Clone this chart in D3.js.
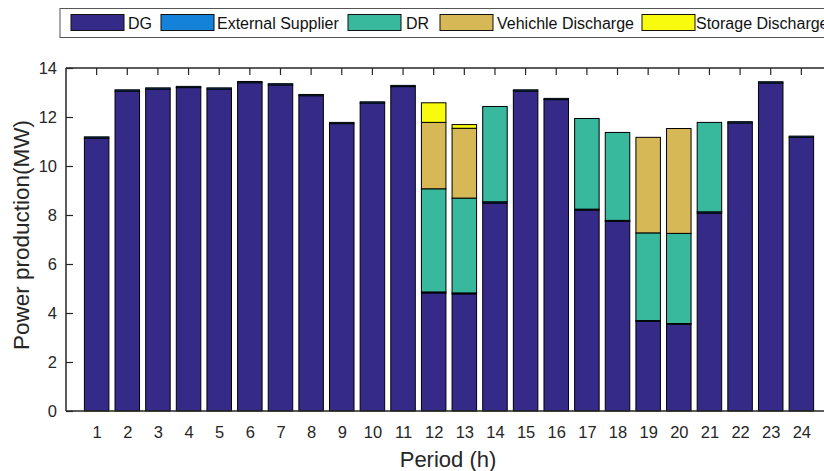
<!DOCTYPE html>
<html><head><meta charset="utf-8">
<script src="https://cdn.jsdelivr.net/npm/d3@7"></script>
<style>body{margin:0;background:#fff;} svg{display:block;font-family:"Liberation Sans",Arial,sans-serif;}</style>
</head><body><svg id="c" width="824" height="471"></svg>
<script>
const periods = [1,2,3,4,5,6,7,8,9,10,11,12,13,14,15,16,17,18,19,20,21,22,23,24];
const seriesNames = ["DG","External Supplier","DR","Vehichle Discharge","Storage Discharge"];
const seriesColors = ["#352a87","#1382d8","#38b89d","#d6b856","#f9fb0e"];
const dg       = [11.14,13.06,13.14,13.20,13.14,13.40,13.31,12.87,11.73,12.57,13.24,4.82,4.78,8.49,13.06,12.71,8.20,7.74,3.66,3.54,8.08,11.76,13.39,11.17];
const external = [0.05,0.05,0.05,0.05,0.05,0.05,0.05,0.05,0.05,0.05,0.05,0.04,0.04,0.05,0.05,0.05,0.04,0.04,0.03,0.03,0.05,0.05,0.05,0.05];
const dr       = [0,0,0,0,0,0,0,0,0,0,0,4.21,3.87,3.89,0,0,3.70,3.59,3.58,3.68,3.65,0,0,0];
const vehicle  = [0,0,0,0,0,0,0,0,0,0,0,2.71,2.85,0,0,0,0,0,3.90,4.28,0,0,0,0];
const storage  = [0,0,0,0,0,0,0,0,0,0,0,0.80,0.15,0,0,0,0,0,0,0,0,0,0,0];
const yTicks = [0,2,4,6,8,10,12,14];

const FONT = "Liberation Sans, Arial, sans-serif";
const svg = d3.select("#c");
const L = 66, T = 68, B = 411;
const x = d3.scaleLinear().domain([0,25]).range([L, L + 25*30.64]);
const y = d3.scaleLinear().domain([0,14]).range([B, T]);
const bw = x(0.8) - x(0);

const rows = periods.map((p,i)=>({p, "DG":dg[i], "External Supplier":external[i], "DR":dr[i], "Vehichle Discharge":vehicle[i], "Storage Discharge":storage[i]}));
const stacked = d3.stack().keys(seriesNames)(rows);

stacked.forEach((s,k)=>{
  svg.append("g").selectAll("rect").data(s.filter(d=>d[1]-d[0]>0)).join("rect")
    .attr("x", d=>x(d.data.p)-bw/2)
    .attr("width", bw)
    .attr("y", d=>y(d[1]))
    .attr("height", d=>y(d[0])-y(d[1]))
    .attr("fill", seriesColors[k])
    .attr("stroke", "#000")
    .attr("stroke-width", 1);
});

const ax = "#262626";
[[L,x(25),B,B],[L,x(25),T,T],[L,L,T,B],[x(25),x(25),T,B]].forEach(([x1,x2,y1,y2])=>
  svg.append("line").attr("x1",x1).attr("x2",x2).attr("y1",y1).attr("y2",y2).attr("stroke",ax).attr("stroke-width",1.5));

const yAxis = d3.axisLeft(y).tickValues(yTicks).tickFormat(d3.format("d")).tickSizeInner(-7).tickSizeOuter(0).tickPadding(9);
const gy = svg.append("g").attr("transform",`translate(${L},0)`).call(yAxis);
gy.select(".domain").remove();
gy.selectAll("line").attr("stroke",ax).attr("stroke-width",1.2);
gy.selectAll("text").attr("font-size",16.5).attr("fill","#262626").attr("font-family",FONT);
svg.append("g").selectAll("line").data(yTicks).join("line")
  .attr("x1",x(25)).attr("x2",x(25)-7).attr("y1",d=>y(d)).attr("y2",d=>y(d)).attr("stroke",ax).attr("stroke-width",1.2);

const xAxis = d3.axisBottom(x).tickValues(periods).tickFormat(d3.format("d")).tickSizeInner(0).tickSizeOuter(0).tickPadding(15);
const gx = svg.append("g").attr("transform",`translate(0,${B})`).call(xAxis);
gx.select(".domain").remove();
gx.selectAll("line").remove();
gx.selectAll("text").attr("font-size",16.5).attr("fill","#262626").attr("font-family",FONT);
svg.append("g").selectAll("line").data(periods).join("line")
  .attr("x1",d=>x(d)).attr("x2",d=>x(d)).attr("y1",T).attr("y2",T+7).attr("stroke",ax).attr("stroke-width",1.2);

svg.append("text").attr("x",448).attr("y",467).attr("text-anchor","middle").attr("font-size",22).attr("fill","#262626").text("Period (h)");
svg.append("text").attr("transform","translate(29,235) rotate(-90)").attr("text-anchor","middle").attr("font-size",22.5).attr("fill","#262626").text("Power production(MW)");

const lg = svg.append("g");
lg.append("rect").attr("x",60).attr("y",8.5).attr("width",800).attr("height",29).attr("fill","#fff").attr("stroke","#555").attr("stroke-width",1);
const swX = [71,161,348,440,642];
const txX = [128,217,406,497,696];
seriesNames.forEach((n,i)=>{
  lg.append("rect").attr("x",swX[i]).attr("y",14.5).attr("width",53).attr("height",16).attr("fill",seriesColors[i]).attr("stroke","#111").attr("stroke-width",1);
  lg.append("text").attr("x",txX[i]).attr("y",28.5).attr("font-size",16).attr("fill","#111").text(n);
});
</script></body></html>
